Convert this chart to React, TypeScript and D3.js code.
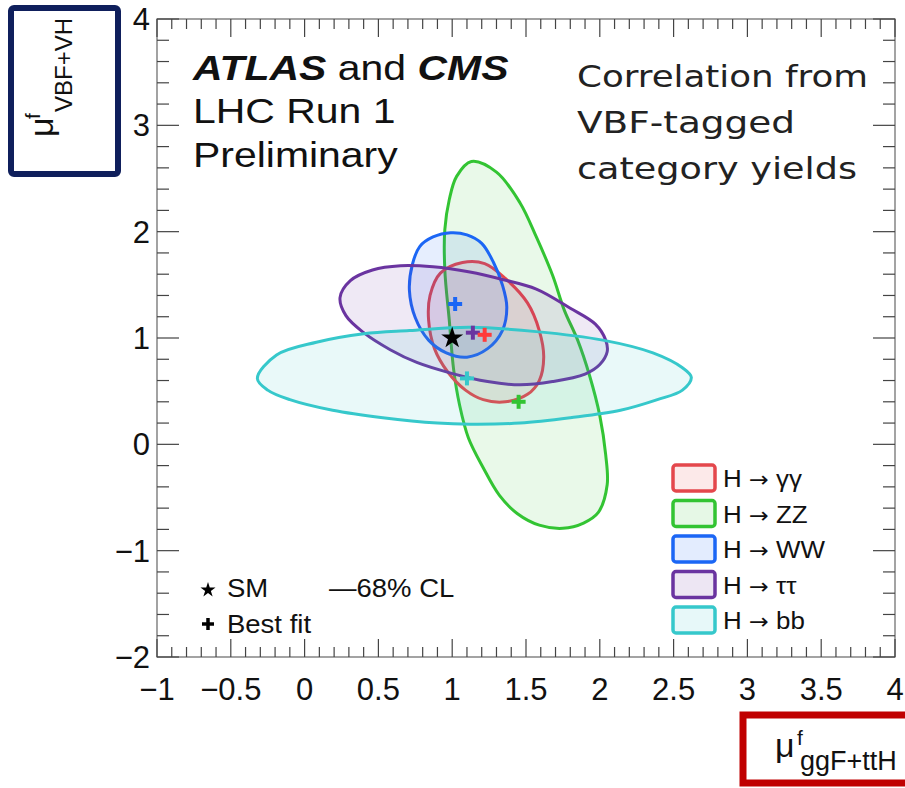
import React from "react";
import * as d3 from "d3";

// ---------- data ----------
const channelNames = ["γγ", "ZZ", "WW", "ττ", "bb"];
const lineColors = ["#e4474c", "#33c433", "#1b66f5", "#6a34a0", "#36c8cb"];
const crossColors = ["#ff3b3b", "#33c433", "#1b66f5", "#6a34a0", "#36c8cb"];

// 68% CL contours (mu_ggF+ttH, mu_VBF+VH)
const gammaGammaContour: [number, number][] = [
  [1.07, 1.71], [1.22, 1.70], [1.36, 1.56], [1.51, 1.33], [1.59, 1.07], [1.62, 0.82],
  [1.59, 0.60], [1.51, 0.47], [1.36, 0.40], [1.21, 0.42], [1.09, 0.51], [0.97, 0.68],
  [0.88, 0.90], [0.84, 1.17], [0.85, 1.40], [0.92, 1.61],
];
const zzContour: [number, number][] = [
  [1.13, 2.66], [1.30, 2.56], [1.46, 2.27], [1.57, 1.95], [1.68, 1.59], [1.76, 1.26],
  [1.85, 0.98], [1.93, 0.65], [2.0, 0.27], [2.04, -0.1], [2.05, -0.38], [1.99, -0.64],
  [1.89, -0.74], [1.75, -0.79], [1.59, -0.76], [1.44, -0.65], [1.32, -0.48], [1.21, -0.22],
  [1.11, 0.06], [1.05, 0.37], [1.01, 0.7], [0.98, 1.17], [0.95, 1.64], [0.95, 2.02],
  [0.98, 2.3], [1.03, 2.52],
];
const wwContour: [number, number][] = [
  [0.99, 1.99], [1.10, 1.97], [1.20, 1.89], [1.28, 1.71], [1.34, 1.50], [1.37, 1.29],
  [1.34, 1.07], [1.24, 0.90], [1.10, 0.82], [0.96, 0.86], [0.84, 0.98], [0.75, 1.19],
  [0.71, 1.45], [0.73, 1.69], [0.78, 1.86], [0.87, 1.95],
];
const tautauContour: [number, number][] = [
  [0.46, 1.64], [0.65, 1.68], [0.87, 1.67], [1.12, 1.62], [1.34, 1.55], [1.57, 1.46],
  [1.80, 1.28], [1.97, 1.13], [2.04, 0.98], [2.05, 0.87], [2.0, 0.75], [1.90, 0.66],
  [1.68, 0.59], [1.46, 0.56], [1.24, 0.59], [0.99, 0.67], [0.76, 0.77], [0.58, 0.89],
  [0.40, 1.05], [0.28, 1.21], [0.24, 1.38], [0.31, 1.54],
];
const bbContour: [number, number][] = [
  [-0.32, 0.62], [-0.25, 0.51], [-0.10, 0.42], [0.19, 0.32], [0.53, 0.25], [0.90, 0.20],
  [1.12, 0.19], [1.46, 0.20], [1.80, 0.25], [2.14, 0.32], [2.39, 0.42], [2.56, 0.51],
  [2.62, 0.63], [2.56, 0.72], [2.36, 0.86], [2.02, 0.98], [1.57, 1.06], [1.12, 1.10],
  [0.71, 1.07], [0.40, 1.04], [0.08, 0.96], [-0.19, 0.84],
];
const contours = [gammaGammaContour, zzContour, wwContour, tautauContour, bbContour];
const drawOrder = [1, 0, 2, 3, 4];

const bestFitX = [1.22, 1.45, 1.02, 1.14, 1.10];
const bestFitY = [1.03, 0.40, 1.32, 1.05, 0.62];
const smPoint = [1, 1];

const xTickValues = [-1, -0.5, 0, 0.5, 1, 1.5, 2, 2.5, 3, 3.5, 4];
const yTickValues = [-2, -1, 0, 1, 2, 3, 4];

// ---------- layout ----------
const W = 905;
const H = 788;
const L = 157, R = 895, T = 19, B = 657;
const x = d3.scaleLinear().domain([-1, 4]).range([L, R]);
const y = d3.scaleLinear().domain([-2, 4]).range([B, T]);
const SX = 1.17;
const FONT = "'Liberation Sans', Arial, Helvetica, sans-serif";

const fmt = (v: number) => (v < 0 ? "−" + Math.abs(v) : String(v));

function SText(props: {
  x: number; y: number; size: number; anchor?: string; sx?: number;
  weight?: string; style?: string; children: React.ReactNode; fill?: string; family?: string;
}) {
  const { sx = SX } = props;
  return (
    <g transform={`translate(${props.x},${props.y}) scale(${sx},1)`}>
      <text
        x={0}
        y={0}
        fontSize={props.size}
        textAnchor={props.anchor || "start"}
        fontWeight={props.weight || "normal"}
        fontStyle={props.style || "normal"}
        fill={props.fill || "#111"}
        fontFamily={props.family || FONT}
      >
        {props.children}
      </text>
    </g>
  );
}

function Cross({ cx, cy, color, h = 7, w = 4 }: { cx: number; cy: number; color: string; h?: number; w?: number }) {
  return (
    <g stroke={color} strokeWidth={w}>
      <line x1={cx - h} x2={cx + h} y1={cy} y2={cy} />
      <line x1={cx} x2={cx} y1={cy - h} y2={cy + h} />
    </g>
  );
}

export default function App() {
  const line = d3
    .line<[number, number]>()
    .x((d) => x(d[0]))
    .y((d) => y(d[1]))
    .curve(d3.curveCatmullRomClosed.alpha(0.5));

  const xMinor = d3.range(0, 51).map((i) => ({ v: -1 + i * 0.1, major: i % 5 === 0 }));
  const yMinor = d3.range(0, 31).map((i) => ({ v: -2 + i * 0.2, major: i % 5 === 0 }));

  const star = d3.symbol().type(d3.symbolStar);

  const legendY0 = 478;
  const legendDy = 35.5;

  return (
    <svg
      width={W}
      height={H}
      style={{ position: "absolute", left: 0, top: 0, background: "#fff" }}
    >
      <rect x={0} y={0} width={W} height={H} fill="#fff" />

      {/* contours */}
      {drawOrder.map((i) => (
        <path
          key={"c" + i}
          d={line(contours[i]) || ""}
          fill={lineColors[i]}
          fillOpacity={0.11}
          stroke={lineColors[i]}
          strokeWidth={3}
          strokeLinejoin="round"
        />
      ))}

      {/* best fits */}
      {[4, 1, 3, 2, 0].map((i) => (
        <Cross key={"bf" + i} cx={x(bestFitX[i])} cy={y(bestFitY[i])} color={crossColors[i]} />
      ))}
      <path
        d={star.size(150)() || ""}
        transform={`translate(${x(smPoint[0])},${y(smPoint[1])})`}
        fill="#000"
      />

      {/* frame */}
      <rect x={L} y={T} width={R - L} height={B - T} fill="none" stroke="#666" strokeWidth={1.2} />

      {/* ticks */}
      <g stroke="#444" strokeWidth={1.2}>
        {xMinor.map((t, i) => {
          const px = x(t.v);
          const len = t.major ? 18 : 10;
          return (
            <g key={"xt" + i}>
              <line x1={px} x2={px} y1={B} y2={B - len} />
              <line x1={px} x2={px} y1={T} y2={T + len} />
            </g>
          );
        })}
        {yMinor.map((t, i) => {
          const py = y(t.v);
          const len = t.major ? 22 : 12;
          return (
            <g key={"yt" + i}>
              <line x1={L} x2={L + len} y1={py} y2={py} />
              <line x1={R} x2={R - len} y1={py} y2={py} />
            </g>
          );
        })}
      </g>

      {/* tick labels */}
      {xTickValues.map((v) => (
        <SText key={"xl" + v} x={x(v)} y={700} size={31} anchor="middle" sx={1.0}>
          {fmt(v)}
        </SText>
      ))}
      {yTickValues.map((v) => (
        <SText key={"yl" + v} x={150} y={y(v) + 11} size={31} anchor="end" sx={1.0}>
          {fmt(v)}
        </SText>
      ))}

      {/* top-left label */}
      <SText x={193} y={80} size={35}>
        <tspan fontWeight="bold" fontStyle="italic">ATLAS</tspan>
        <tspan> and </tspan>
        <tspan fontWeight="bold" fontStyle="italic">CMS</tspan>
      </SText>
      <SText x={193} y={123} size={35}>LHC Run 1</SText>
      <SText x={193} y={167} size={35}>Preliminary</SText>

      {/* top-right label */}
      {[
        ["Correlation from", 87, 291],
        ["VBF-tagged", 133, 218],
        ["category yields", 179, 280],
      ].map(([t, by, len]) => (
        <text
          key={String(t)}
          x={577}
          y={Number(by)}
          fontSize={31}
          fontFamily="'DejaVu Sans', sans-serif"
          fill="#222"
          textLength={Number(len)}
          lengthAdjust="spacingAndGlyphs"
        >
          {t}
        </text>
      ))}

      {/* legend */}
      {channelNames.map((name, i) => {
        const cy = legendY0 + i * legendDy;
        return (
          <g key={"lg" + i}>
            <rect
              x={673}
              y={cy - 13}
              width={42}
              height={26}
              rx={3}
              fill={lineColors[i]}
              fillOpacity={0.12}
              stroke={lineColors[i]}
              strokeWidth={3.5}
            />
            <SText x={723} y={cy + 9} size={24} sx={1.08}>
              <tspan>H </tspan>
              <tspan fontFamily="'DejaVu Sans', sans-serif" fontSize={22}>→</tspan>
              <tspan> {name}</tspan>
            </SText>
          </g>
        );
      })}

      {/* SM / best-fit / CL legend */}
      <path d={star.size(70)() || ""} transform="translate(208,590)" fill="#000" />
      <SText x={227} y={597} size={25} sx={1.1}>SM</SText>
      <SText x={329} y={597} size={25} sx={1.1}>—68% CL</SText>
      <Cross cx={208} cy={624} color="#000" h={6} w={3.5} />
      <SText x={227} y={633} size={25} sx={1.1}>Best fit</SText>

      {/* y-axis title box */}
      <rect x={11} y={8} width={107} height={166} rx={3} fill="#fff" stroke="#0f1f5c" strokeWidth={6} />
      <g transform="rotate(-90)">
        <text x={-137} y={53} fontSize={34} fontFamily={FONT} fill="#111">μ</text>
        <text x={-119} y={40} fontSize={21} fontFamily={FONT} fill="#111">f</text>
        <text x={-112} y={72} fontSize={24} fontFamily={FONT} fill="#111">VBF+VH</text>
      </g>

      {/* x-axis title box */}
      <rect x={743} y={715} width={200} height={68} fill="#fff" stroke="#c00000" strokeWidth={7} />
      <text x={775} y={757} fontSize={34} fontFamily={FONT} fill="#111">μ</text>
      <text x={797} y={745} fontSize={21} fontFamily={FONT} fill="#111">f</text>
      <text x={800} y={770} fontSize={27} fontFamily={FONT} fill="#111">ggF+ttH</text>
    </svg>
  );
}
